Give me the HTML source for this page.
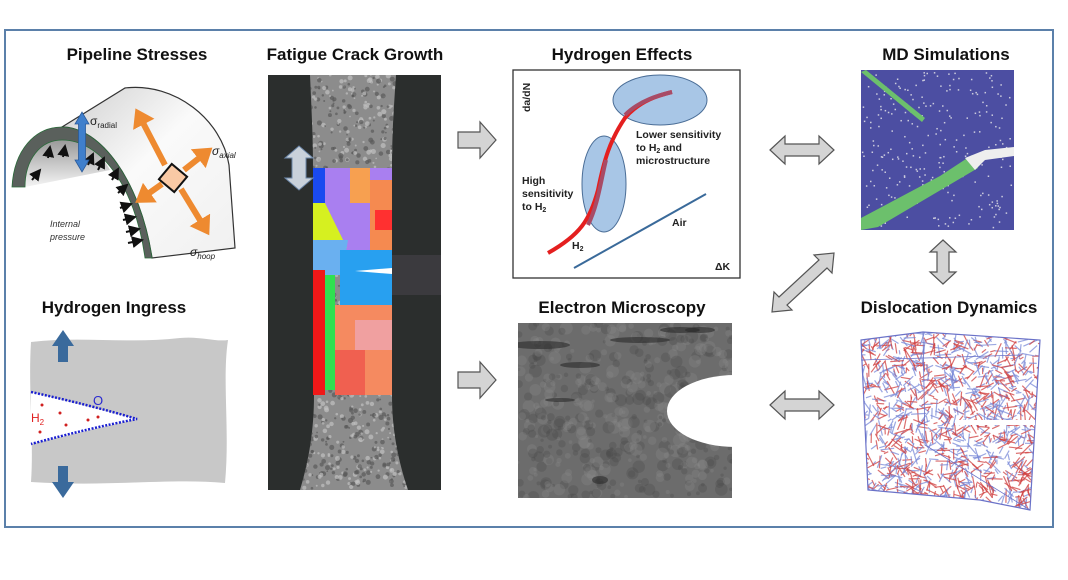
<!DOCTYPE html>
<html><head><meta charset="utf-8"><style>
html,body{margin:0;padding:0;background:#fff;width:1068px;height:580px;overflow:hidden}
svg{display:block}
.t{font-family:"Liberation Sans",sans-serif;font-weight:bold;font-size:17px;fill:#111;text-anchor:middle}
.s{font-family:"Liberation Sans",sans-serif;font-weight:bold;font-size:10.5px;fill:#222}
.ga{fill:#d4d4d4;stroke:#555;stroke-width:1.2}
</style></head><body>
<svg id="sv" width="1068" height="580" viewBox="0 0 1068 580" xmlns="http://www.w3.org/2000/svg">
<defs>
<linearGradient id="pipe" x1="0" y1="0" x2="1" y2="1"><stop offset="0" stop-color="#cfcfcf"/><stop offset="0.45" stop-color="#fafafa"/><stop offset="1" stop-color="#f0f0f0"/></linearGradient>
<linearGradient id="inner" x1="0" y1="0" x2="0" y2="1"><stop offset="0" stop-color="#9a9a9a"/><stop offset="1" stop-color="#f4f4f4"/></linearGradient>
<marker id="ah" markerWidth="6" markerHeight="6" refX="5" refY="3" orient="auto"><path d="M0,0L6,3L0,6z" fill="#111"/></marker>
<marker id="oh" markerWidth="4" markerHeight="4" refX="1" refY="2" orient="auto" markerUnits="strokeWidth"><path d="M0,0L3,2L0,4z" fill="#ee8a30"/></marker>
<clipPath id="gc"><path d="M310,75 L396,75 C393,120 392,140 392,170 L392,395 C392,430 398,460 408,490 L300,490 C309,460 314,430 314,395 L313,170 C313,140 312,120 310,75Z"/></clipPath>
<clipPath id="emc"><rect x="518" y="323" width="214" height="175"/></clipPath>
<clipPath id="ddc"><path d="M861,340 L923,332 L1040,340 L1030,510 L980,500 L868,490 Z"/></clipPath>
<clipPath id="mdc"><rect x="861" y="70" width="153" height="160"/></clipPath>
</defs>
<rect x="5" y="30" width="1048" height="497" fill="#fff" stroke="#5b80aa" stroke-width="2"/>

<text class="t" x="137" y="60">Pipeline Stresses</text>
<text class="t" x="355" y="60">Fatigue Crack Growth</text>
<text class="t" x="622" y="60">Hydrogen Effects</text>
<text class="t" x="946" y="60">MD Simulations</text>
<text class="t" x="114" y="313">Hydrogen Ingress</text>
<text class="t" x="622" y="313">Electron Microscopy</text>
<text class="t" x="949" y="313">Dislocation Dynamics</text>

<!-- pipeline -->
<path d="M62,127 L125,88 C175,82 222,120 229,165 L235,248 L152,258 C140,180 100,127 62,127 Z" fill="url(#pipe)" stroke="#333" stroke-width="1.2"/>
<path d="M25,187 C25,160 40,140 62,140 C85,140 100,152 110,170 L25,187z" fill="url(#inner)"/>
<path d="M12,187 C14,150 35,127 62,127 C100,127 140,180 152,258 L145,258 C135,185 100,140 62,140 C40,140 25,160 25,187 Z" fill="#5a605c" stroke="#2a6b3a" stroke-width="0.8"/>
<g stroke="#111" stroke-width="2" marker-end="url(#ah)">
<line x1="32" y1="180" x2="40" y2="170"/><line x1="48" y1="158" x2="50" y2="147"/><line x1="63" y1="157" x2="65" y2="146"/>
<line x1="88" y1="165" x2="93" y2="154"/><line x1="98" y1="170" x2="104" y2="158"/><line x1="112" y1="180" x2="118" y2="169"/>
<line x1="118" y1="193" x2="127" y2="185"/><line x1="120" y1="208" x2="131" y2="204"/><line x1="123" y1="220" x2="135" y2="217"/><line x1="126" y1="232" x2="139" y2="229"/><line x1="128" y1="243" x2="142" y2="240"/>
</g>
<text x="50" y="227" font-family="Liberation Sans" font-style="italic" font-size="9" fill="#333">Internal</text>
<text x="50" y="240" font-family="Liberation Sans" font-style="italic" font-size="9" fill="#333">pressure</text>
<path d="M75,124 l7,-12 l7,12 h-3.5 v36 h3.5 l-7,12 l-7,-12 h3.5 v-36z" fill="#3f7fcc" stroke="#2a5a9a" stroke-width="0.8"/>
<text x="90" y="125" font-family="Liberation Sans" font-size="12" fill="#222">σ<tspan font-size="8" dy="3">radial</tspan></text>
<g stroke="#ee8a30" stroke-width="6" marker-end="url(#oh)" fill="none">
<line x1="165" y1="165" x2="141" y2="119"/>
<line x1="181" y1="189" x2="203" y2="225"/>
<line x1="184" y1="170" x2="203" y2="155"/>
<line x1="162" y1="184" x2="145" y2="196"/>
</g>
<rect x="163" y="168" width="20" height="20" transform="rotate(40 173 178)" fill="#f9c9a5" stroke="#111" stroke-width="2"/>
<text x="212" y="155" font-family="Liberation Sans" font-style="italic" font-size="12" fill="#222">σ<tspan font-size="8" dy="3">axial</tspan></text>
<text x="190" y="256" font-family="Liberation Sans" font-style="italic" font-size="12" fill="#222">σ<tspan font-size="8" dy="3">hoop</tspan></text>

<!-- fatigue -->
<rect x="268" y="75" width="173" height="415" fill="#2b2e2d"/>
<g clip-path="url(#gc)"><rect x="290" y="75" width="130" height="415" fill="#8c8c8c"/><g id="fn"></g></g>
<g id="grains"></g>
<rect x="392" y="255" width="49" height="40" fill="#3b3a3e"/>
<path d="M392,268 L355,271 L392,274z" fill="#fff"/>
<path d="M285,158 l14,-12 l14,12 h-7 v20 h7 l-14,12 l-14,-12 h7 v-20z" fill="#c9d1da" stroke="#6b86a8"/>

<!-- graph -->
<rect x="513" y="70" width="227" height="208" fill="#fff" stroke="#333" stroke-width="1.3"/>
<text class="s" transform="translate(530,112) rotate(-90)">da/dN</text>
<text class="s" x="715" y="270" font-size="12">ΔK</text>
<ellipse cx="660" cy="100" rx="47" ry="25" fill="#a8c6e6" stroke="#4a6d96"/>
<ellipse cx="604" cy="184" rx="22" ry="48" fill="#a8c6e6" stroke="#4a6d96"/>
<path d="M548,253 C580,235 590,220 598,190 C604,160 610,140 625,118 C640,100 660,95 672,92" fill="none" stroke="#e41f1f" stroke-width="4"/>
<path d="M588,225 C598,205 601,180 606,160 M625,115 C640,100 660,95 672,92" fill="none" stroke="#a84b66" stroke-width="4"/>
<line x1="574" y1="268" x2="706" y2="194" stroke="#3a6a9a" stroke-width="2"/>
<text class="s" x="636" y="138">Lower sensitivity</text>
<text class="s" x="636" y="151">to H<tspan font-size="7" dy="2">2</tspan><tspan dy="-2"> and</tspan></text>
<text class="s" x="636" y="164">microstructure</text>
<text class="s" x="522" y="184">High</text>
<text class="s" x="522" y="197">sensitivity</text>
<text class="s" x="522" y="210">to H<tspan font-size="7" dy="2">2</tspan></text>
<text class="s" x="672" y="226">Air</text>
<text class="s" x="572" y="249">H<tspan font-size="7" dy="2">2</tspan></text>

<!-- hydrogen ingress -->
<path d="M31,342 C80,336 130,344 180,338 C200,336 215,342 228,340 C222,380 230,430 225,483 C170,478 110,487 31,482 C34,440 28,390 31,342Z" fill="#c8c8c8"/>
<path d="M31,392 L137,419 L31,444z" fill="#fff"/>
<path d="M31,392 Q90,405 137,419 Q90,428 31,444" fill="none" stroke="#1a1fd0" stroke-width="2.5" stroke-dasharray="2 1.5"/>
<text x="93" y="405" font-family="Liberation Sans" font-size="13" fill="#2a2ad0">O</text>
<text x="31" y="422" font-family="Liberation Sans" font-size="12" fill="#e02020">H<tspan font-size="8" dy="3">2</tspan></text>
<g fill="#d02020"><circle cx="42" cy="405" r="1.5"/><circle cx="60" cy="413" r="1.5"/><circle cx="66" cy="425" r="1.5"/><circle cx="40" cy="432" r="1.5"/><circle cx="88" cy="420" r="1.5"/><circle cx="98" cy="417" r="1.5"/></g>
<path d="M52,346 L63,330 L74,346 h-6 v16 h-10 v-16z" fill="#3a6a9c"/>
<path d="M52,482 L63,498 L74,482 h-6 v-16 h-10 v16z" fill="#3a6a9c"/>

<!-- EM -->
<rect x="518" y="323" width="214" height="175" fill="#6c6c6c"/>
<g id="em" clip-path="url(#emc)"></g>
<ellipse cx="735" cy="411" rx="68" ry="36" fill="#fff"/>
<rect x="733" y="370" width="12" height="85" fill="#fff"/>

<!-- MD -->
<rect x="861" y="70" width="153" height="160" fill="#4c4ea2"/>
<g id="md"></g>
<g clip-path="url(#mdc)">
<path d="M861,72 L866,70 L925,118 L922,122z" fill="#6cc06c"/>
<path d="M861,218 L861,230 L878,227 L978,168 L972,155 L940,176z" fill="#6cc06c"/>
<path d="M965,158 L985,150 L1014,147 L1014,156 L985,160 L975,170z" fill="#eee"/>
</g>

<!-- DD -->
<g id="dd" clip-path="url(#ddc)"></g>
<path d="M861,340 L923,332 L1040,340 L1030,510 L980,500 L868,490 Z" fill="none" stroke="#6a72c8" stroke-width="1.2"/>
<path d="M923,332 L925,445 L1030,510 M861,360 L1022,355" fill="none" stroke="#6a72c8" stroke-width="0.8"/>
<rect x="955" y="420" width="80" height="5" fill="#fff"/>

<!-- arrows -->
<path class="ga" d="M458,132 h22 v-10 l16,18 l-16,18 v-10 h-22z"/>
<path class="ga" d="M458,372 h22 v-10 l16,18 l-16,18 v-10 h-22z"/>
<path class="ga" d="M770,150 l15,-14 v8 h34 v-8 l15,14 l-15,14 v-8 h-34 v8z"/>
<path class="ga" d="M770,405 l15,-14 v8 h34 v-8 l15,14 l-15,14 v-8 h-34 v8z"/>
<path class="ga" d="M943,240 l13,12 h-7 v20 h7 l-13,12 l-13,-12 h7 v-20 h-7z"/>
<path class="ga" d="M772,312 l2,-20 l5,5 l40,-37 l-5,-5 l20,-2 l-2,20 l-5,-5 l-40,37 l5,5z"/>
</svg>
<script>
var NS="http://www.w3.org/2000/svg",s=7;function r(){s=(s*16807)%2147483647;return s/2147483647;}
function el(p,t,a){var e=document.createElementNS(NS,t);for(var k in a)e.setAttribute(k,a[k]);document.getElementById(p).appendChild(e);return e;}
for(var i=0;i<1400;i++)el("fn","circle",{cx:295+r()*120,cy:75+r()*415,r:0.8+r()*1.8,fill:r()<0.5?"#c0c0c0":"#5a5a5a",opacity:0.7});
var G=[["M313,168h12v35h-12z","#1a4af0"],["M325,168h67v85h-45l-22,-50z","#a97ff0"],["M350,168h20v35h-20z","#f7a050"],["M313,203h12l22,45h-34z","#d6f020"],["M370,180h22v70h-22z","#f58a50"],["M375,210h17v20h-17z","#ff3030"],["M313,240h35l-6,35h-29z","#6ab0f0"],["M340,250h52v60h-52z","#28a0f0"],["M313,270h12v125h-12z","#f01818"],["M325,275h10v115h-10z","#30e050"],["M335,305h57v90h-57z","#f58a60"],["M355,320h37v30h-37z","#f0a0a0"],["M335,350h30v45h-30z","#f06050"]];
G.forEach(function(g){el("grains","path",{d:g[0],fill:g[1]});});
for(var i=0;i<500;i++)el("em","circle",{cx:518+r()*214,cy:323+r()*175,r:1.5+r()*5,fill:r()<0.5?"#4a4a4a":"#8a8a8a",opacity:0.3});
var st=[[540,345,30,4],[580,365,20,3],[640,340,30,3],[680,330,20,3],[600,480,8,4],[560,400,15,2],[700,330,15,3]];
st.forEach(function(q){el("em","ellipse",{cx:q[0],cy:q[1],rx:q[2],ry:q[3],fill:"#2a2a2a",opacity:0.6});});
for(var i=0;i<250;i++)el("md","rect",{x:861+r()*150,y:72+r()*155,width:1.5,height:1.5,fill:"#ccd"});
for(var i=0;i<1300;i++){var x=858+r()*180,y=332+r()*180,a=r()*6.28,l=4+r()*12;el("dd","line",{x1:x,y1:y,x2:x+Math.cos(a)*l,y2:y+Math.sin(a)*l,stroke:r()<0.5?"#d04040":"#7a8ad8","stroke-width":1.2,opacity:0.75});}
</script>
</body></html>
